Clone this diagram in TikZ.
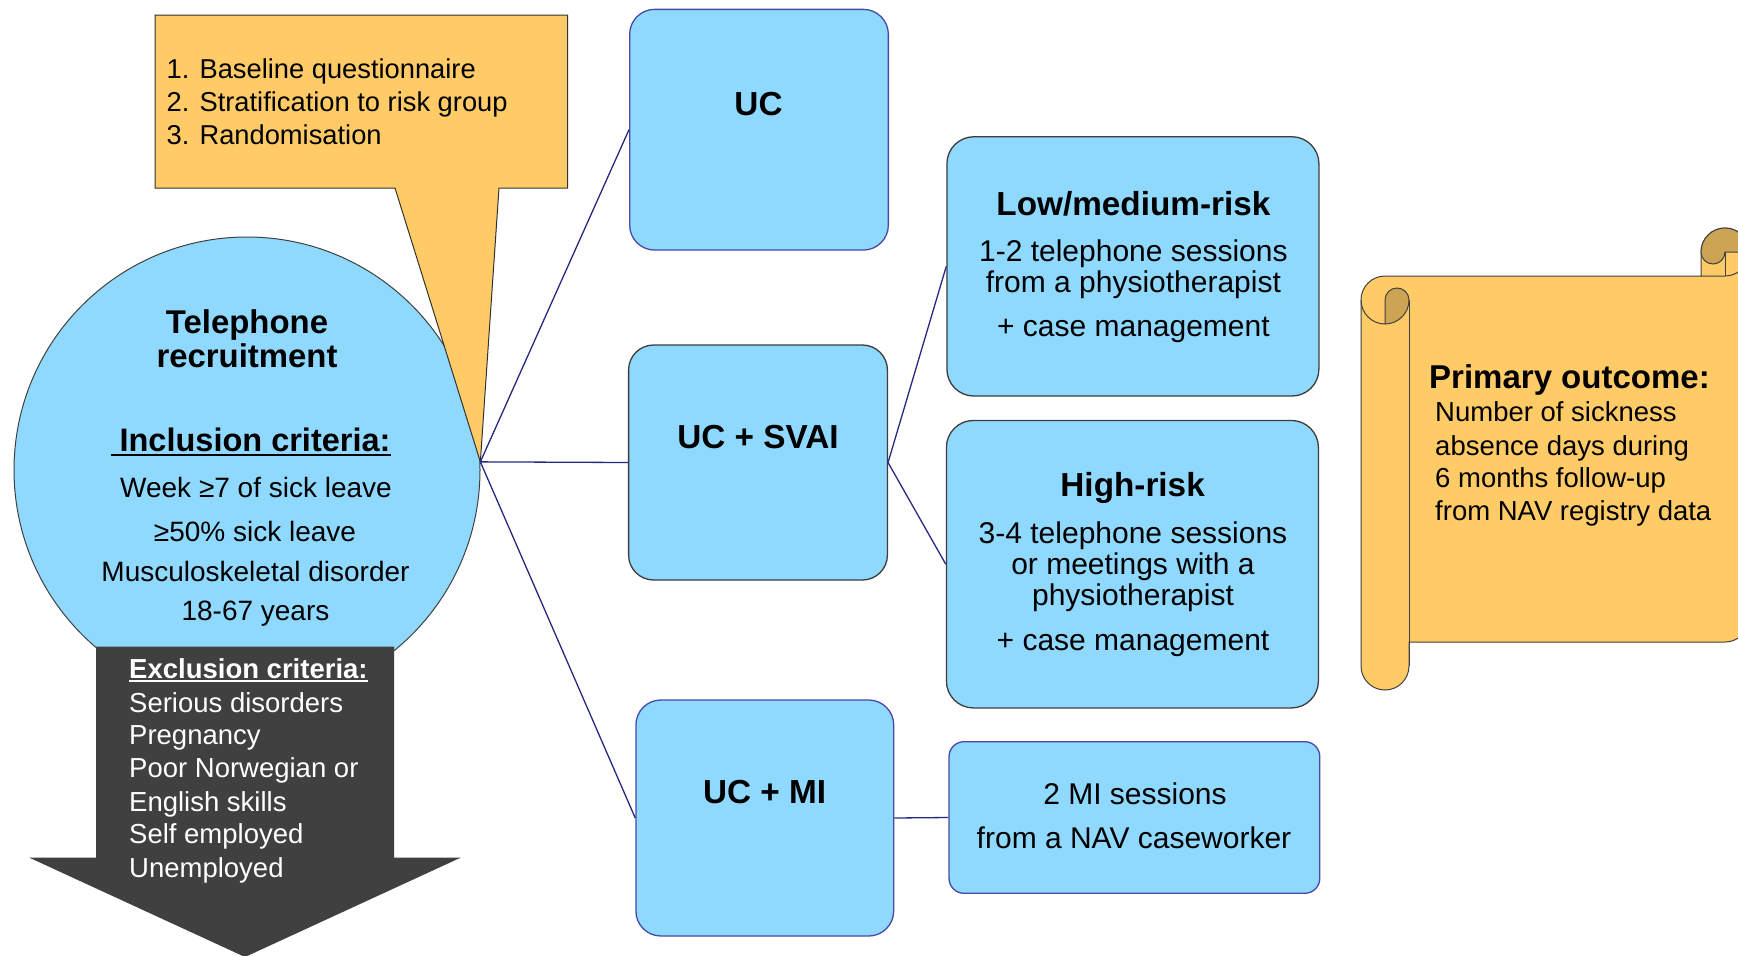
\documentclass[tikz,border=0pt]{standalone}
\usepackage{fontspec}
\setmainfont{Liberation Sans}
\usetikzlibrary{shapes.geometric}

\definecolor{boxblue}{RGB}{143,217,255}
\definecolor{paper}{RGB}{255,203,102}
\definecolor{papershade}{RGB}{205,164,84}
\definecolor{exclgray}{RGB}{64,64,64}
\definecolor{linknavy}{RGB}{40,40,128}
\definecolor{edgeblue}{RGB}{72,72,168}
\definecolor{edgegray}{RGB}{60,60,60}

\newcommand{\fsz}[2]{\fontsize{#1}{#2}\selectfont}
% underline drawn as a rule under the measured text
\newcommand{\ulin}[1]{\setbox0\hbox{#1}\rlap{\rule[-0.14em]{\wd0}{0.07em}}\box0}

\tikzset{
  armblue/.style={draw=edgeblue, line width=1.3pt, fill=boxblue, rounded corners=25pt, inner sep=0pt},
  armgray/.style={draw=edgegray, line width=1.3pt, fill=boxblue, rounded corners=27pt, inner sep=0pt},
  sessblue/.style={draw=edgeblue, line width=1.3pt, fill=boxblue, rounded corners=15pt, inner sep=0pt},
  link/.style={draw=linknavy, line width=1.3pt},
  scrollline/.style={draw=black!75, line width=1pt},
  ttl/.style={inner sep=0pt, anchor=base, font=\fsz{33.3}{35}\bfseries},
  bodytxt/.style={inner sep=0pt, anchor=base, font=\fsz{30}{32}},
  crit/.style={inner sep=0pt, anchor=base, font=\fsz{28}{32}},
  lefttxt/.style={inner sep=0pt, anchor=base west, font=\fsz{27.5}{31}},
}

\begin{document}
\begin{tikzpicture}[x=1pt, y=-1pt]
\useasboundingbox (0,0) rectangle (1738,956);

% ---- recruitment circle ----
\node[circle, draw=black!75, line width=1pt, fill=boxblue,
      minimum size=466pt, inner sep=0pt] (circ) at (247,470) {};
\coordinate (tip) at (circ.2);

% ---- callout with the three steps ----
\filldraw[draw=black!80, line width=1pt, fill=paper]
  (155,15) -- (567.5,15) -- (567.5,188) -- (499,188) -- (tip)
  -- (395,188) -- (155,188) -- cycle;
\node[lefttxt, font=\fsz{27.3}{32}] (s1) at (166.5,78.5) {1. Baseline questionnaire};
\node[lefttxt, font=\fsz{27.3}{32}] (s2) at (166.5,111.5) {2. Stratification to risk group};
\node[lefttxt, font=\fsz{27.3}{32}] (s3) at (166.5,144.5) {3. Randomisation};

% ---- exclusion arrow ----
\fill[exclgray] (96,646.5) -- (394,646.5) -- (394,857.5) -- (461,857.5) -- (245,957)
  -- (29,857.5) -- (96,857.5) -- cycle;

% ---- circle text ----
\node[ttl, font=\fsz{32.9}{35}\bfseries] (tel1) at (247,333.5) {Telephone};
\node[ttl, font=\fsz{32.9}{35}\bfseries] (tel2) at (247,367) {recruitment};
\node[ttl, font=\fsz{32.5}{35}\bfseries] (inc) at (250.5,451.4) {\ulin{\hspace{0.28em}Inclusion criteria:}};
\node[crit] (i1) at (256,497.5) {Week ≥7 of sick leave};
\node[crit] (i2) at (255,541) {≥50\% sick leave};
\node[crit] (i3) at (255.5,581) {Musculoskeletal disorder};
\node[crit] (i4) at (255.5,620) {18-67 years};

% ---- exclusion text ----
\begin{scope}[every node/.append style={text=white}]
\node[lefttxt, font=\fsz{27.5}{31}\bfseries] (e0) at (129,678.4) {\ulin{Exclusion criteria:}};
\node[lefttxt] (e1) at (129,712) {Serious disorders};
\node[lefttxt] (e2) at (129,744.5) {Pregnancy};
\node[lefttxt] (e3) at (129,777.7) {Poor Norwegian or};
\node[lefttxt] (e4) at (129,811.3) {English skills};
\node[lefttxt] (e5) at (129,843.8) {Self employed};
\node[lefttxt] (e6) at (129,877) {Unemployed};
\end{scope}

% ---- study arms ----
\node[armblue, minimum width=258.7pt, minimum height=240.7pt] (uc) at (759,129.7) {};
\node[armgray, rounded corners=25pt, minimum width=258.8pt, minimum height=235pt] (svai) at (758,462.5) {};
\node[armblue, minimum width=257.8pt, minimum height=236pt] (mi) at (764.8,818) {};
\node[ttl] (uct) at (758.5,115) {UC};
\node[ttl] (svait) at (758,448.3) {UC + SVAI};
\node[ttl] (mit) at (764.6,803.3) {UC + MI};

% ---- intervention contents ----
\node[armgray, minimum width=372pt, minimum height=259.3pt] (low) at (1132.9,266.4) {};
\node[armgray, minimum width=372pt, minimum height=287.5pt] (high) at (1132.4,564.2) {};
\node[sessblue, minimum width=370.8pt, minimum height=151.6pt] (misess) at (1134.4,817.5) {};

\node[ttl] (lowt) at (1133.4,215) {Low/medium-risk};
\node[bodytxt] (low1) at (1133.4,261.7) {1-2 telephone sessions};
\node[bodytxt] (low2) at (1133.4,292.7) {from a physiotherapist};
\node[bodytxt] (low3) at (1133.4,336.7) {+ case management};

\node[ttl] (hight) at (1132.6,496.7) {High-risk};
\node[bodytxt] (high1) at (1133,543.3) {3-4 telephone sessions};
\node[bodytxt] (high2) at (1133,574.3) {or meetings with a};
\node[bodytxt] (high3) at (1133,605) {physiotherapist};
\node[bodytxt] (high4) at (1133,650) {+ case management};

\node[bodytxt] (mis1) at (1135,804) {2 MI sessions};
\node[bodytxt] (mis2) at (1134,848.3) {from a NAV caseworker};

% ---- connectors ----
\draw[link] (tip) -- (uc.west);
\draw[link] (tip) -- (svai.west);
\draw[link] (tip) -- (mi.west);
\draw[link] (svai.east) -- (low.west);
\draw[link] (svai.east) -- (high.west);
\draw[link] (mi.east) -- (misess.west);

% ---- outcome scroll ----
\filldraw[scrollline, fill=paper]
  (1361,300) arc[start angle=180, end angle=270, radius=24]
  -- (1701,276) -- (1701,252)
  arc[start angle=180, end angle=360, radius=24]
  -- (1749,618)
  arc[start angle=0, end angle=90, radius=24]
  -- (1409,642) -- (1409,666)
  arc[start angle=0, end angle=180, radius=24]
  -- cycle;
% left roll curl
\filldraw[scrollline, fill=papershade]
  (1385,300) arc[start angle=180, end angle=360, radius=12]
  arc[start angle=0, end angle=90, radius=24] -- cycle;
\draw[scrollline] (1361,300) arc[start angle=180, end angle=90, radius=24];
\draw[scrollline] (1409,300) -- (1409,666);
% right roll curl
\filldraw[scrollline, fill=papershade]
  (1701,252) arc[start angle=180, end angle=360, radius=24]
  -- (1725,252) arc[start angle=0, end angle=180, radius=12] -- cycle;
\draw[scrollline] (1725,252) -- (1725,276);
\draw[scrollline] (1701,276) -- (1725,276) arc[start angle=90, end angle=0, radius=24];

\node[inner sep=0pt, anchor=base west, font=\fsz{33}{35}\bfseries] (po) at (1429,388.3) {Primary outcome:};
\node[lefttxt] (po1) at (1435,421.7) {Number of sickness};
\node[lefttxt] (po2) at (1435,455) {absence days during};
\node[lefttxt] (po3) at (1435,487.3) {6 months follow-up};
\node[lefttxt] (po4) at (1435,520) {from NAV registry data};
\end{tikzpicture}
\end{document}
